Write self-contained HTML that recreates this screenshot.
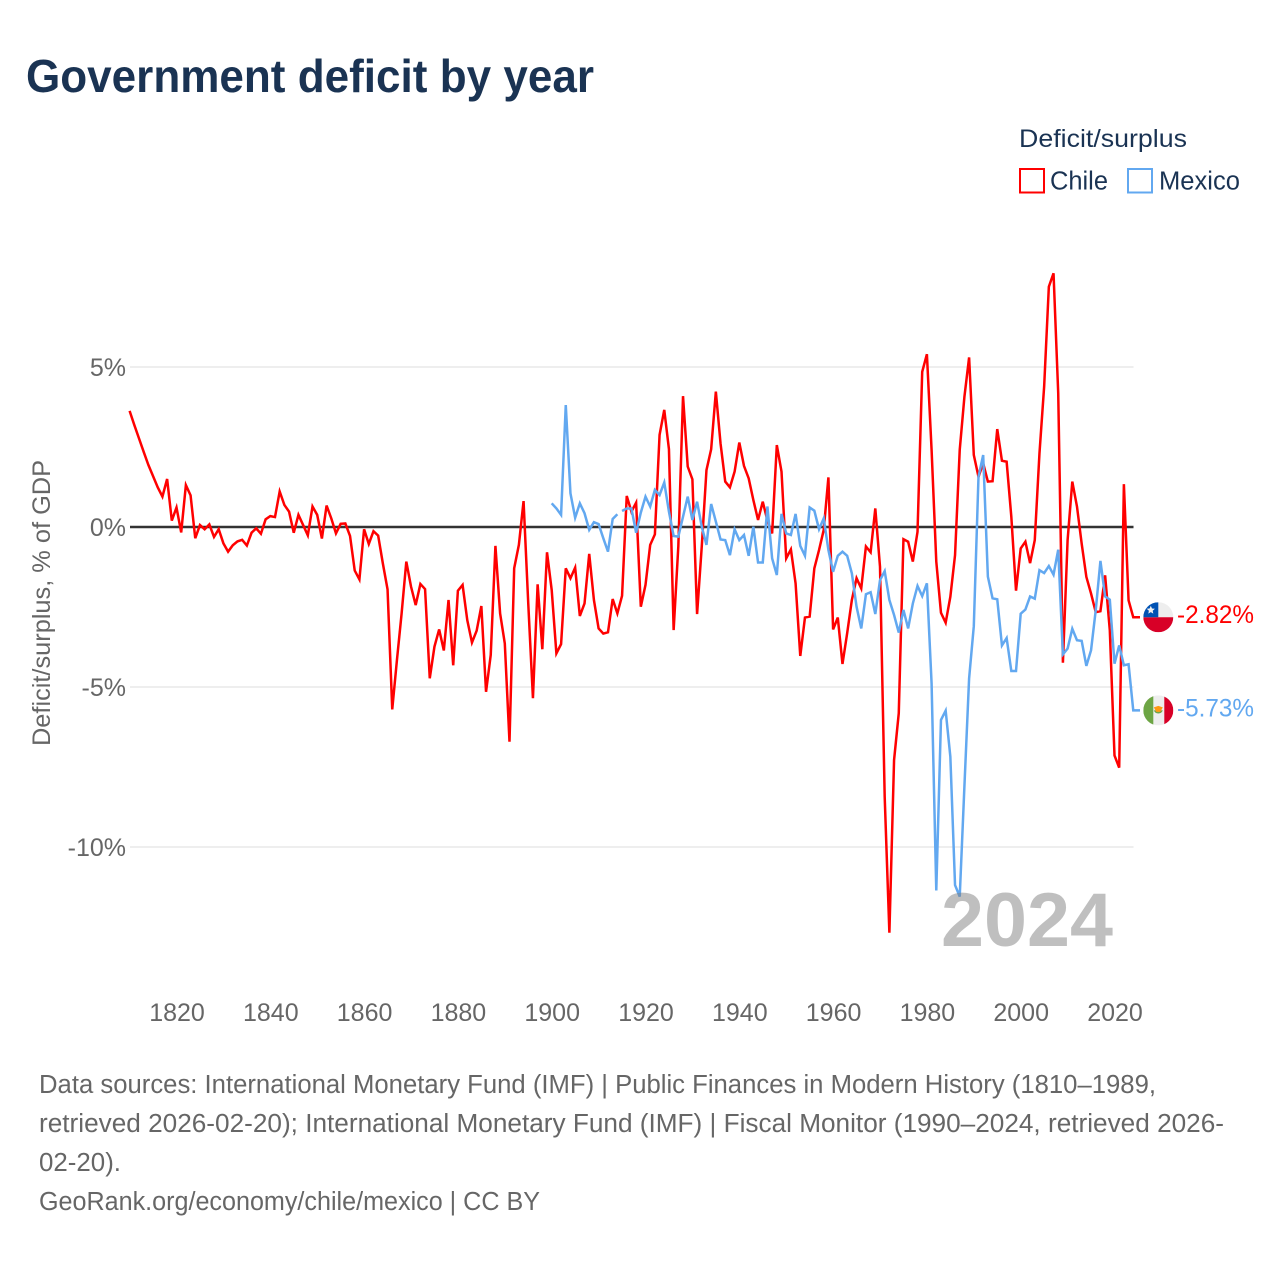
<!DOCTYPE html>
<html lang="en">
<head>
<meta charset="utf-8">
<title>Government deficit by year</title>
<style>
html,body{margin:0;padding:0;background:#fff;}
svg{display:block;font-family:"Liberation Sans",sans-serif;}
</style>
</head>
<body>
<svg id="chart" xmlns="http://www.w3.org/2000/svg" width="1280" height="1280" viewBox="0 0 1280 1280">
  <rect width="1280" height="1280" fill="#fff"/>
  <text x="26" y="92" font-size="46" font-weight="700" fill="#1a3353" textLength="568" lengthAdjust="spacingAndGlyphs">Government deficit by year</text>

  <g>
    <text x="1019" y="147" font-size="25" fill="#1a3353" textLength="168" lengthAdjust="spacingAndGlyphs">Deficit/surplus</text>
    <g>
      <rect x="1020" y="169" width="24" height="23.500" fill="#fff" stroke="#ff0000" stroke-width="2"/>
      <text x="1050" y="189.500" font-size="25.500" fill="#1a3353" textLength="58" lengthAdjust="spacingAndGlyphs">Chile</text>
    </g>
    <g>
      <rect x="1128" y="169" width="24" height="23.500" fill="#fff" stroke="#62a8f0" stroke-width="2"/>
      <text x="1159" y="189.500" font-size="25.500" fill="#1a3353" textLength="81" lengthAdjust="spacingAndGlyphs">Mexico</text>
    </g>
  </g>

  <text transform="translate(50,603) rotate(-90)" text-anchor="middle" font-size="25" fill="#666" textLength="286" lengthAdjust="spacingAndGlyphs">Deficit/surplus, % of GDP</text>

  <g id="grid"></g>
  <g id="yticks"></g>
  <g id="xticks"></g>
  <g id="series"></g>

  <defs>
    <clipPath id="flag-clip"><circle cx="0" cy="0" r="15"/></clipPath>
  </defs>
  <g id="flag-chile">
    <g clip-path="url(#flag-clip)">
      <rect x="-15" y="-15" width="30" height="15" fill="#eeeeee"/>
      <rect x="-15" y="0" width="30" height="15" fill="#d80027"/>
      <rect x="-15" y="-15" width="15" height="15" fill="#0052b4"/>
      <polygon points="-7.500,-11.500 -6.300,-8.800 -3.400,-8.500 -5.600,-6.500 -5,-3.600 -7.500,-5.100 -10,-3.600 -9.400,-6.500 -11.600,-8.500 -8.700,-8.800" fill="#f0f0f0"/>
    </g>
  </g>
  <g id="flag-mexico">
    <g clip-path="url(#flag-clip)">
      <rect x="-15" y="-15" width="30" height="30" fill="#eeeeee"/>
      <rect x="-15" y="-15" width="10" height="30" fill="#6da544"/>
      <rect x="6" y="-15" width="9" height="30" fill="#d80027"/>
      <path d="M-4.500,0 A4.800,4.800 0 0 0 4.500,0 L2.500,0 A3,3 0 0 1 -2.500,0 Z" fill="#6da544"/>
      <polygon points="-4.500,-3 0,-4.500 4.500,-3 2,1.500 -2,1.500" fill="#ff9811"/>
    </g>
  </g>
  <text id="label-chile" x="1177" font-size="25" fill="#ff0000" textLength="77" lengthAdjust="spacingAndGlyphs"></text>
  <text id="label-mexico" x="1177" font-size="25" fill="#62a8f0" textLength="77" lengthAdjust="spacingAndGlyphs"></text>

  <text x="941" y="946" font-size="76" font-weight="700" fill="#808080" fill-opacity="0.5" textLength="172" lengthAdjust="spacingAndGlyphs">2024</text>

  <g font-size="25.500" fill="#666">
    <text x="39" y="1093" textLength="1117" lengthAdjust="spacingAndGlyphs">Data sources: International Monetary Fund (IMF) | Public Finances in Modern History (1810–1989,</text>
    <text x="39" y="1132" textLength="1185" lengthAdjust="spacingAndGlyphs">retrieved 2026-02-20); International Monetary Fund (IMF) | Fiscal Monitor (1990–2024, retrieved 2026-</text>
    <text x="39" y="1171" textLength="82" lengthAdjust="spacingAndGlyphs">02-20).</text>
    <text x="39" y="1210" textLength="501" lengthAdjust="spacingAndGlyphs">GeoRank.org/economy/chile/mexico | CC BY</text>
  </g>
</svg>

<script>
const chileStartYear = 1810;
const chileValues = [
  3.63,3.19,2.77,2.35,1.94,1.59,1.24,0.95,1.50,0.20,
  0.61,-0.17,1.31,0.99,-0.35,0.06,-0.07,0.08,-0.31,-0.07,
  -0.51,-0.77,-0.57,-0.45,-0.40,-0.58,-0.18,-0.04,-0.21,0.24,
  0.34,0.31,1.11,0.69,0.48,-0.18,0.38,0.06,-0.26,0.64,
  0.38,-0.36,0.67,0.27,-0.20,0.10,0.11,-0.28,-1.36,-1.64,
  -0.07,-0.53,-0.13,-0.27,-1.14,-1.95,-5.70,-4.16,-2.70,-1.08,
  -1.86,-2.44,-1.78,-1.94,-4.73,-3.74,-3.20,-3.86,-2.28,-4.32,
  -1.99,-1.81,-2.91,-3.61,-3.24,-2.47,-5.15,-4.00,-0.59,-2.70,
  -3.64,-6.71,-1.29,-0.56,0.81,-2.39,-5.35,-1.79,-3.82,-0.79,
  -1.97,-3.95,-3.66,-1.29,-1.60,-1.27,-2.78,-2.39,-0.84,-2.28,
  -3.17,-3.33,-3.29,-2.25,-2.70,-2.15,0.97,0.48,0.76,-2.49,
  -1.81,-0.56,-0.23,2.88,3.66,2.43,-3.22,-0.60,4.09,1.89,
  1.49,-2.72,-0.60,1.78,2.43,4.23,2.61,1.42,1.24,1.73,
  2.64,1.91,1.52,0.84,0.22,0.79,0.20,-0.20,2.56,1.73,
  -0.98,-0.70,-1.76,-4.03,-2.83,-2.80,-1.29,-0.72,-0.09,1.55,
  -3.20,-2.83,-4.28,-3.32,-2.28,-1.60,-1.92,-0.61,-0.79,0.58,
  -1.24,-8.43,-12.68,-7.28,-5.82,-0.38,-0.46,-1.08,-0.15,4.85,
  5.40,2.41,-1.08,-2.68,-2.99,-2.18,-0.88,2.41,4.07,5.30,
  2.25,1.57,1.99,1.42,1.43,3.06,2.07,2.04,0.32,-1.99,
  -0.67,-0.46,-1.13,-0.41,2.30,4.39,7.51,7.93,4.18,-4.24,
  -0.41,1.42,0.64,-0.52,-1.56,-2.08,-2.66,-2.63,-1.51,-3.23,
  -7.14,-7.52,1.34,-2.29,-2.82
];
const mexicoStartYear = 1900;
const mexicoValues = [
  0.74,0.58,0.38,3.81,1.05,0.29,0.74,0.43,-0.09,0.15,
  0.09,-0.35,-0.77,0.25,0.40,0.50,0.58,0.58,-0.18,0.45,
  0.95,0.64,1.16,1.00,1.39,0.48,-0.28,-0.30,0.32,0.95,
  0.22,0.79,0.01,-0.56,0.72,0.17,-0.39,-0.41,-0.88,-0.07,
  -0.41,-0.25,-0.90,0.01,-1.11,-1.11,0.64,-0.98,-1.50,0.41,
  -0.20,-0.25,0.41,-0.59,-0.90,0.61,0.51,-0.07,0.27,-0.72,
  -1.40,-0.90,-0.77,-0.90,-1.45,-2.49,-3.17,-2.10,-2.04,-2.72,
  -1.66,-1.38,-2.28,-2.75,-3.30,-2.59,-3.17,-2.39,-1.84,-2.16,
  -1.76,-4.89,-11.36,-6.03,-5.74,-7.18,-11.19,-11.55,-8.10,-4.73,
  -3.10,1.57,2.25,-1.55,-2.23,-2.26,-3.70,-3.47,-4.50,-4.50,
  -2.71,-2.58,-2.17,-2.24,-1.35,-1.44,-1.22,-1.49,-0.71,-3.98,
  -3.80,-3.18,-3.54,-3.56,-4.34,-3.85,-2.60,-1.06,-2.17,-2.27,
  -4.27,-3.70,-4.32,-4.29,-5.73
];
const mexicoBreakYears = [1914];
const xTickYears = [1820,1840,1860,1880,1900,1920,1940,1960,1980,2000,2020];
const yTickValues = [5,0,-5,-10];
const yTickLabels = ["5%","0%","-5%","-10%"];

const SVGNS = "http://www.w3.org/2000/svg";
const plotLeft = 130, plotRight = 1133.5, connectorEnd = 1140;
function xScale(year){ return 176.5 + (year - 1820) * 4.69; }
function yScale(value){ return 527 - value * 32; }

const grid = document.getElementById("grid");
const yticks = document.getElementById("yticks");
yTickValues.forEach(function(v, i){
  const line = document.createElementNS(SVGNS, "line");
  
  
  line.setAttribute("x1", plotLeft);
  line.setAttribute("x2", plotRight);
  line.setAttribute("y1", yScale(v));
  line.setAttribute("y2", yScale(v));
  line.setAttribute("stroke", v === 0 ? "#333333" : "#e8e8e8");
  line.setAttribute("stroke-width", v === 0 ? 2.4 : 1.5);
  grid.appendChild(line);
  const t = document.createElementNS(SVGNS, "text");
  
  
  t.setAttribute("x", 126);
  t.setAttribute("y", yScale(v) + 9);
  t.setAttribute("text-anchor", "end");
  t.setAttribute("font-size", "25");
  t.setAttribute("fill", "#666");
  t.textContent = yTickLabels[i];
  yticks.appendChild(t);
});

const xticks = document.getElementById("xticks");
xTickYears.forEach(function(year){
  const t = document.createElementNS(SVGNS, "text");
  
  
  t.setAttribute("x", xScale(year) + 0.5);
  t.setAttribute("y", 1021);
  t.setAttribute("text-anchor", "middle");
  t.setAttribute("font-size", "25");
  t.setAttribute("fill", "#666");
  t.textContent = String(year);
  xticks.appendChild(t);
});

function linePath(startYear, values, breaks){
  let d = "";
  let pen = false;
  values.forEach(function(v, i){
    const year = startYear + i;
    d += (pen ? "L" : "M") + xScale(year).toFixed(2) + " " + yScale(v).toFixed(2);
    pen = breaks.indexOf(year) === -1;
  });
  d += "L" + connectorEnd + " " + yScale(values[values.length - 1]).toFixed(2);
  return d;
}

const seriesGroup = document.getElementById("series");
const chilePath = document.createElementNS(SVGNS, "path");


chilePath.setAttribute("d", linePath(chileStartYear, chileValues, []));
chilePath.setAttribute("fill", "none");
chilePath.setAttribute("stroke", "#ff0000");
chilePath.setAttribute("stroke-width", "2.500");
chilePath.setAttribute("stroke-linejoin", "miter");
seriesGroup.appendChild(chilePath);

const mexicoPath = document.createElementNS(SVGNS, "path");


mexicoPath.setAttribute("d", linePath(mexicoStartYear, mexicoValues, mexicoBreakYears));
mexicoPath.setAttribute("fill", "none");
mexicoPath.setAttribute("stroke", "#62a8f0");
mexicoPath.setAttribute("stroke-width", "2.500");
mexicoPath.setAttribute("stroke-linejoin", "miter");
seriesGroup.appendChild(mexicoPath);

const chileLast = chileValues[chileValues.length - 1];
const mexicoLast = mexicoValues[mexicoValues.length - 1];
document.getElementById("flag-chile").setAttribute("transform", "translate(1158.3," + yScale(chileLast) + ")");
document.getElementById("flag-mexico").setAttribute("transform", "translate(1158.3," + yScale(mexicoLast) + ")");
const labelChile = document.getElementById("label-chile");
labelChile.setAttribute("y", yScale(chileLast) + 6);
labelChile.textContent = chileLast.toFixed(2) + "%";
const labelMexico = document.getElementById("label-mexico");
labelMexico.setAttribute("y", yScale(mexicoLast) + 6);
labelMexico.textContent = mexicoLast.toFixed(2) + "%";
</script>
</body>
</html>
